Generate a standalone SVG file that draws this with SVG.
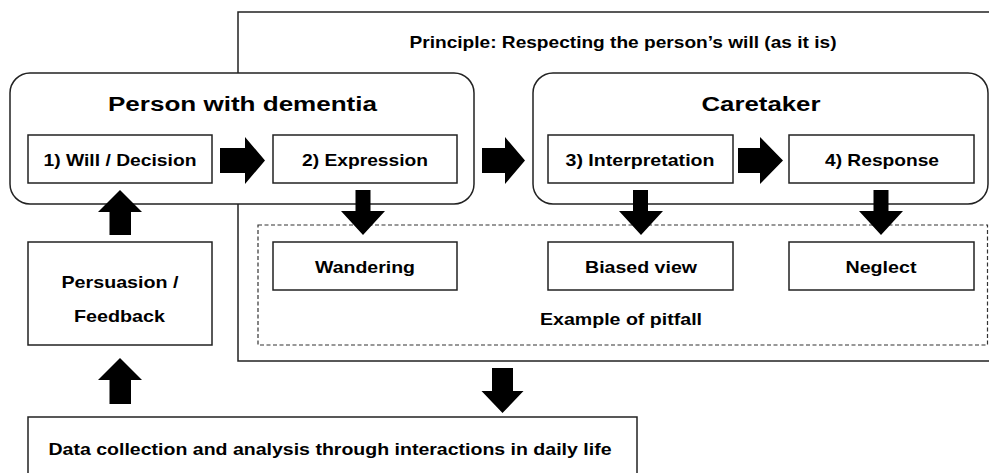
<svg xmlns="http://www.w3.org/2000/svg" width="989" height="473" viewBox="0 0 989 473">
<style>
text{font-family:"Liberation Sans",Arial,sans-serif;font-weight:bold;fill:#000;text-anchor:middle}
.t{font-size:20px}
.s{font-size:17px}
.p{font-size:16.5px}
.box{fill:#fff;stroke:#222;stroke-width:1.5}
.frame{fill:none;stroke:#222;stroke-width:1.5}
.dash{fill:none;stroke:#333;stroke-width:1.2;stroke-dasharray:4 2.5}
.arr{fill:#000;stroke:none}
</style>
<rect width="989" height="473" fill="#fff"/>
<g id="principle">
<rect class="frame" x="238" y="12" width="800" height="349"/>
<text class="p" x="623" y="48" textLength="427" lengthAdjust="spacingAndGlyphs">Principle: Respecting the person’s will (as it is)</text>
</g>
<g id="pitfall">
<rect class="dash" x="258" y="225" width="729.5" height="120"/>
<text class="s" x="621" y="325" textLength="162" lengthAdjust="spacingAndGlyphs">Example of pitfall</text>
</g>
<g id="person">
<rect class="box" x="10" y="73" width="464" height="131" rx="20"/>
<text class="t" x="242.5" y="111" textLength="269" lengthAdjust="spacingAndGlyphs">Person with dementia</text>
</g>
<g id="caretaker">
<rect class="box" x="533" y="73" width="455" height="131" rx="20"/>
<text class="t" x="761" y="111" textLength="119" lengthAdjust="spacingAndGlyphs">Caretaker</text>
</g>
<g id="will">
<rect class="box" x="28" y="135" width="184" height="48"/>
<text class="s" x="120" y="165.5" textLength="153" lengthAdjust="spacingAndGlyphs">1) Will / Decision</text>
</g>
<g id="expression">
<rect class="box" x="273" y="135" width="184" height="48"/>
<text class="s" x="365" y="165.5" textLength="126" lengthAdjust="spacingAndGlyphs">2) Expression</text>
</g>
<g id="interpretation">
<rect class="box" x="548" y="135" width="185" height="48"/>
<text class="s" x="640" y="165.5" textLength="149" lengthAdjust="spacingAndGlyphs">3) Interpretation</text>
</g>
<g id="response">
<rect class="box" x="789" y="135" width="185" height="48"/>
<text class="s" x="882" y="165.5" textLength="114" lengthAdjust="spacingAndGlyphs">4) Response</text>
</g>
<g id="wandering">
<rect class="box" x="273" y="242" width="184" height="48"/>
<text class="s" x="365" y="273" textLength="100" lengthAdjust="spacingAndGlyphs">Wandering</text>
</g>
<g id="biased">
<rect class="box" x="548" y="242" width="185" height="48"/>
<text class="s" x="641" y="273" textLength="112" lengthAdjust="spacingAndGlyphs">Biased view</text>
</g>
<g id="neglect">
<rect class="box" x="789" y="242" width="185" height="48"/>
<text class="s" x="881" y="273" textLength="71" lengthAdjust="spacingAndGlyphs">Neglect</text>
</g>
<g id="persuasion">
<rect class="box" x="28" y="242" width="184" height="103"/>
<text class="s" x="120" y="287.5" textLength="117" lengthAdjust="spacingAndGlyphs">Persuasion /</text>
<text class="s" x="119.5" y="322" textLength="91" lengthAdjust="spacingAndGlyphs">Feedback</text>
</g>
<g id="data">
<rect class="box" x="28" y="417" width="609" height="70"/>
<text class="s" x="330" y="455" textLength="563" lengthAdjust="spacingAndGlyphs">Data collection and analysis through interactions in daily life</text>
</g>
<g id="connectors">
<polygon class="arr" points="220,148 245,148 245,137 265,160.5 245,184 245,173 220,173"/>
<polygon class="arr" points="482,148 505,148 505,137 525,160.5 505,184 505,173 482,173"/>
<polygon class="arr" points="738,148 760,148 760,137 783,160.5 760,184 760,173 738,173"/>
<polygon class="arr" points="355.5,190 370.5,190 370.5,211 385,211 363,235 341,211 355.5,211"/>
<polygon class="arr" points="633,190 648,190 648,211 663,211 641,235 619,211 633,211"/>
<polygon class="arr" points="873.5,190 888.5,190 888.5,211 903,211 881,235 859,211 873.5,211"/>
<polygon class="arr" points="120,190 142,212 131,212 131,235 109.5,235 109.5,212 98,212"/>
<polygon class="arr" points="120,358 142,380 131,380 131,404 109.5,404 109.5,380 98,380"/>
<polygon class="arr" points="492,368 513,368 513,391 523.5,391 502.5,413 481.5,391 492,391"/>
</g>
</svg>
